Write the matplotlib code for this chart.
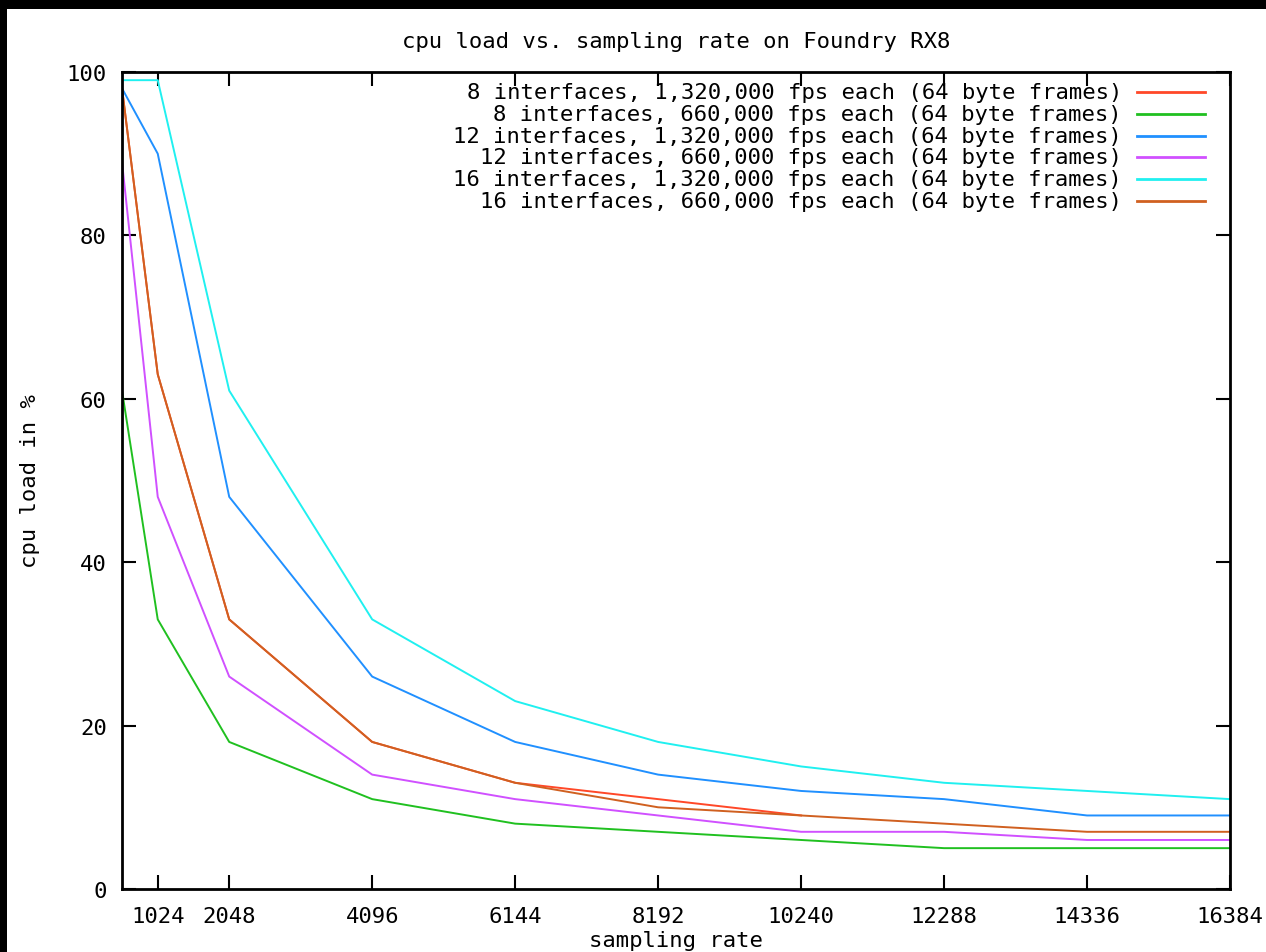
# -*- coding: utf-8 -*-

import matplotlib
matplotlib.use('Agg')
import matplotlib.pyplot as plt
from matplotlib.patches import Rectangle

# sampling rates
rates = [512, 1024, 2048, 4096, 6144, 8192, 10240, 12288, 14336, 16384]
rates_short = rates[:7]

# cpu load in % per configuration
load_8_1320k = [98, 63, 33, 18, 13, 11, 9]
load_8_660k = [61, 33, 18, 11, 8, 7, 6, 5, 5, 5]
load_12_1320k = [98, 90, 48, 26, 18, 14, 12, 11, 9, 9]
load_12_660k = [89, 48, 26, 14, 11, 9, 7, 7, 6, 6]
load_16_1320k = [99, 99, 61, 33, 23, 18, 15, 13, 12, 11]
load_16_660k = [98, 63, 33, 18, 13, 10, 9, 8, 7, 7]

labels = ['8 interfaces, 1,320,000 fps each (64 byte frames)',
          '8 interfaces, 660,000 fps each (64 byte frames)',
          '12 interfaces, 1,320,000 fps each (64 byte frames)',
          '12 interfaces, 660,000 fps each (64 byte frames)',
          '16 interfaces, 1,320,000 fps each (64 byte frames)',
          '16 interfaces, 660,000 fps each (64 byte frames)']
colors = ['#ff4828', '#20c020', '#2090ff', '#d050ff', '#20f0f0', '#d06020']

xticks = [1024, 2048, 4096, 6144, 8192, 10240, 12288, 14336, 16384]
yticks = [0, 20, 40, 60, 80, 100]

font = 'DejaVu Sans Mono'
fs = 16

fig = plt.figure(figsize=(12.66, 9.53), dpi=100)
fig.patch.set_facecolor('white')
# black strips at the top and left edge of the screenshot
fig.patches.append(Rectangle((0, 1 - 10 / 953), 1, 10 / 953, transform=fig.transFigure,
                             facecolor='black', edgecolor='none', zorder=10))
fig.patches.append(Rectangle((0, 0), 7 / 1266, 1, transform=fig.transFigure,
                             facecolor='black', edgecolor='none', zorder=10))

ax = fig.add_axes([122 / 1266, 1 - 890 / 953, 1108 / 1266, 817 / 953])

series = [(rates_short, load_8_1320k), (rates, load_8_660k), (rates, load_12_1320k),
          (rates, load_12_660k), (rates, load_16_1320k), (rates, load_16_660k)]
for (xs, ys), c in zip(series, colors):
    ax.plot(xs, ys, color=c, lw=1.4)

ax.set_xlim(512, 16384)
ax.set_ylim(0, 100)
ax.set_xticks(xticks)
ax.set_yticks(yticks)
ax.set_xticklabels([str(t) for t in xticks], fontfamily=font, fontsize=fs)
ax.set_yticklabels([str(t) for t in yticks], fontfamily=font, fontsize=fs)
ax.tick_params(direction='in', length=10, width=1.5, top=True, right=True)
ax.tick_params(axis='y', pad=11)
ax.tick_params(axis='x', pad=12)
for s in ax.spines.values():
    s.set_linewidth(2)

ax.set_title('cpu load vs. sampling rate on Foundry RX8', fontfamily=font,
             fontsize=fs, pad=18)
ax.set_xlabel('sampling rate', fontfamily=font, fontsize=fs, labelpad=3)
ax.set_ylabel('cpu load in %', fontfamily=font, fontsize=fs)
ax.yaxis.set_label_coords(-82 / 1108, 0.5)

# key, gnuplot style: right aligned text with line sample after it
y0 = (890 - 93) / 817
dy = 21.8 / 817
for i, (lab, c) in enumerate(zip(labels, colors)):
    y = y0 - i * dy
    ax.text(1000 / 1108, y, lab, ha='right', va='center', transform=ax.transAxes,
            fontfamily=font, fontsize=fs)
    ax.plot([1015 / 1108, 1083 / 1108], [y, y], transform=ax.transAxes,
            color=c, lw=2, clip_on=False)

fig.savefig('out.png', dpi=100)
